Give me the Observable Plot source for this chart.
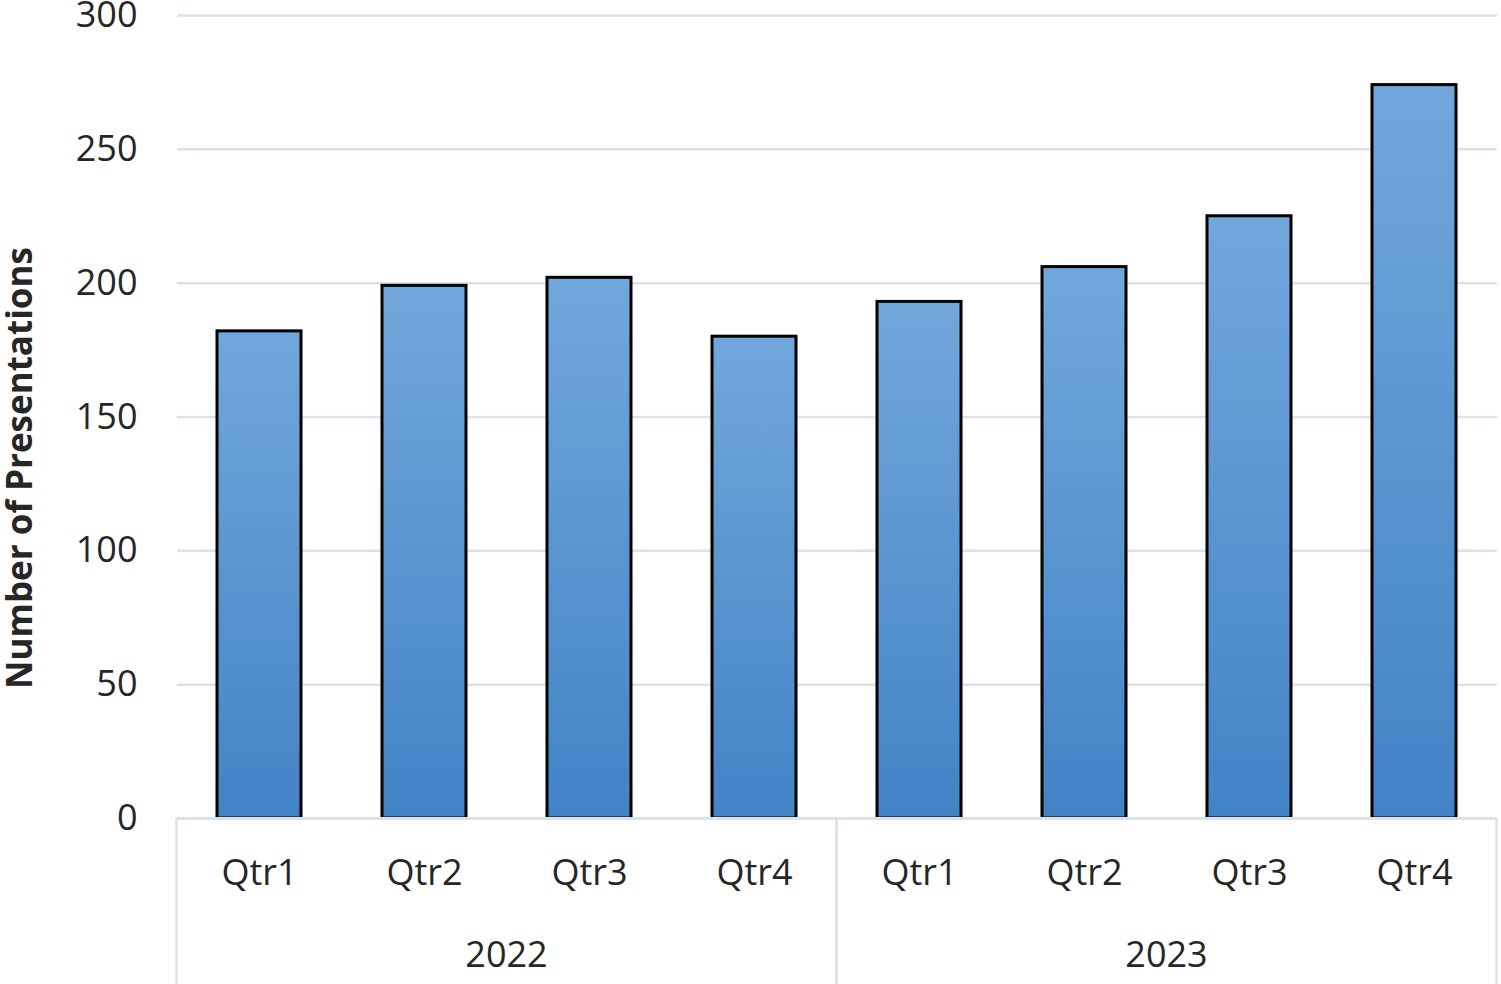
<!DOCTYPE html>
<html>
<head>
<meta charset="utf-8">
<script src="https://cdn.jsdelivr.net/npm/d3@7"></script>
<script src="https://cdn.jsdelivr.net/npm/@observablehq/plot@0.6"></script>
<style>
  html, body { margin: 0; padding: 0; background: #fff; }
  #chart svg { display: block; }
</style>
</head>
<body>
<div id="chart"></div>
<script>
// ---- data ----
const years = ["2022", "2023"];
const quarters = ["Qtr1", "Qtr2", "Qtr3", "Qtr4"];
const values2022 = [182, 199, 202, 180];
const values2023 = [193, 206, 225, 274];
const yTicks = [0, 50, 100, 150, 200, 250, 300];
const yLabel = "Number of Presentations";

// ---- build table ----
const seriesByYear = { "2022": values2022, "2023": values2023 };
const data = years.flatMap(year =>
  quarters.map((q, i) => ({ year, quarter: q, key: year + " " + q, value: seriesByYear[year][i] }))
);
const keys = data.map(d => d.key);

const NS = "http://www.w3.org/2000/svg";
const gridColor = "#dde2ea";
const textColor = "#262626";

// gradient definition (per-bar, objectBoundingBox)
function gradientDefs() {
  const defs = document.createElementNS(NS, "defs");
  const lg = document.createElementNS(NS, "linearGradient");
  lg.setAttribute("id", "barGrad");
  lg.setAttribute("x1", "0"); lg.setAttribute("y1", "0");
  lg.setAttribute("x2", "0"); lg.setAttribute("y2", "1");
  [["0%", "#72a7dc"], ["100%", "#4283c6"]].forEach(([o, c]) => {
    const s = document.createElementNS(NS, "stop");
    s.setAttribute("offset", o);
    s.setAttribute("stop-color", c);
    lg.appendChild(s);
  });
  defs.appendChild(lg);
  return defs;
}

// grouped (year) axis: separators and year labels, placed with the x scale
function yearAxis(index, scales, values, dimensions) {
  const x = scales.x;
  const bw = x.bandwidth();
  const step = x.step();
  const half = (step - bw) / 2;
  const bottom = dimensions.height - dimensions.marginBottom;
  const g = document.createElementNS(NS, "g");
  years.forEach(year => {
    const ks = keys.filter(k => k.startsWith(year));
    const left = x(ks[0]) - half;
    const right = x(ks[ks.length - 1]) + bw + half;
    [left, right].forEach(px => {
      const l = document.createElementNS(NS, "line");
      l.setAttribute("x1", px); l.setAttribute("x2", px);
      l.setAttribute("y1", bottom); l.setAttribute("y2", dimensions.height);
      l.setAttribute("stroke", gridColor);
      l.setAttribute("stroke-width", 2.5);
      g.appendChild(l);
    });
    const t = document.createElementNS(NS, "text");
    t.setAttribute("x", (left + right) / 2);
    t.setAttribute("y", bottom + 123);
    t.setAttribute("dy", "0.71em");
    t.setAttribute("text-anchor", "middle");
    t.setAttribute("fill", textColor);
    t.setAttribute("font-size", 36);
    t.textContent = year;
    g.appendChild(t);
  });
  return g;
}

const chart = Plot.plot({
  width: 1501,
  height: 984,
  marginLeft: 177,
  marginRight: 4,
  marginTop: 15,
  marginBottom: 166,
  style: { fontFamily: "'Open Sans', sans-serif", fontSize: "36px", color: textColor, background: "white" },
  x: { domain: keys, paddingInner: 0.49, paddingOuter: 0.245, label: null },
  y: { domain: [0, 300], label: null },
  marks: [
    gradientDefs,
    Plot.ruleY(yTicks, { stroke: gridColor, strokeWidth: 2.5 }),
    Plot.barY(data, { x: "key", y: "value", fill: "url(#barGrad)", stroke: "black", strokeWidth: 3 }),
    Plot.ruleY([0], { stroke: gridColor, strokeWidth: 3 }),
    Plot.axisY({ ticks: yTicks, tickSize: 0, tickPadding: 40, fontSize: 36, label: null, fill: textColor }),
    Plot.axisX({ tickSize: 0, tickPadding: 41, fontSize: 36, label: null, fill: textColor,
                 tickFormat: d => d.split(" ")[1] }),
    yearAxis,
    Plot.text([yLabel], { frameAnchor: "left", textAnchor: "middle", rotate: -90, dx: -157, dy: 51,
                          fontSize: 35, fontWeight: "bold", fill: textColor })
  ]
});

document.getElementById("chart").appendChild(chart);
</script>
</body>
</html>
